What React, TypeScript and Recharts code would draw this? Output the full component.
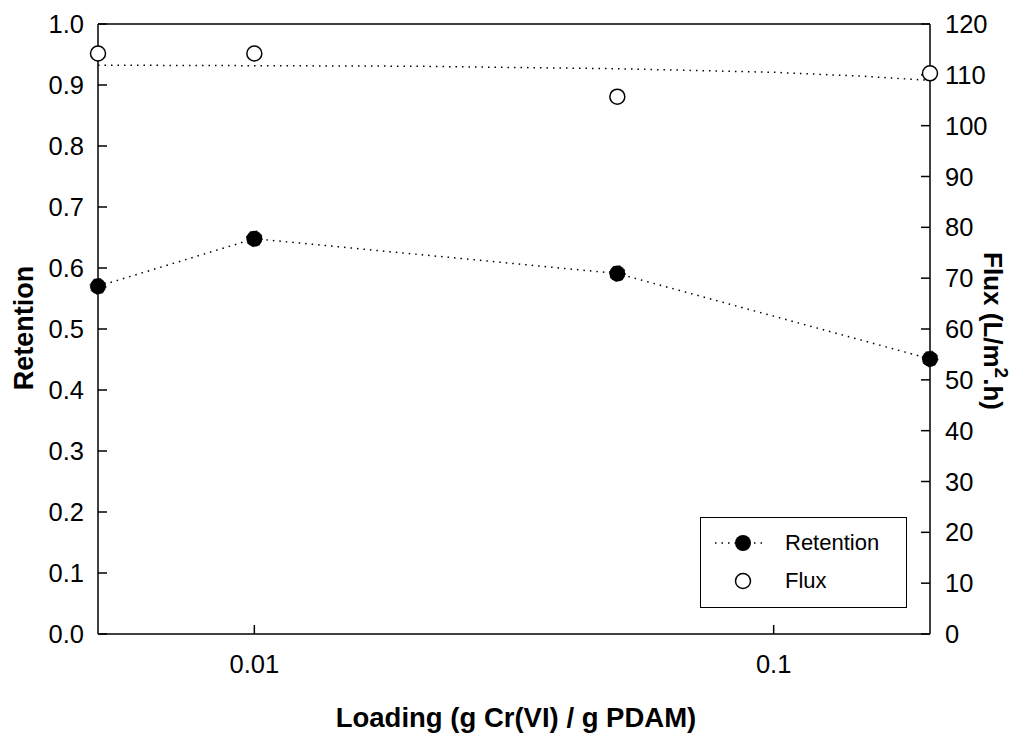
import React from "react";
import {
  ComposedChart,
  Legend,
  Line,
  ReferenceLine,
  XAxis,
  YAxis,
} from "recharts";

const FONT = '"Liberation Sans", Arial, Helvetica, sans-serif';

// loading, g Cr(VI) / g PDAM
const loading = [0.005, 0.01, 0.05, 0.2];
const retention = [0.57, 0.648, 0.591, 0.451];
const flux = [114.2, 114.2, 105.7, 110.3];

// dotted trend line through the flux points
const fluxTrendX = [0.005, 0.01, 0.02, 0.05, 0.1, 0.15, 0.2];
const fluxTrendY = [111.9, 111.8, 111.7, 111.2, 110.5, 109.7, 108.9];

const xTicks = [0.01, 0.1];
const retTicks = [0, 0.1, 0.2, 0.3, 0.4, 0.5, 0.6, 0.7, 0.8, 0.9, 1.0];
const fluxTicks = [0, 10, 20, 30, 40, 50, 60, 70, 80, 90, 100, 110, 120];

const retData = loading.map((x, i) => ({ x, retention: retention[i] }));
const fluxData = loading.map((x, i) => ({ x, flux: flux[i] }));
const trendData = fluxTrendX.map((x, i) => ({ x, trend: fluxTrendY[i] }));

const tickStyle = { fontSize: 25.5, fill: "#000", fontFamily: FONT };
const axisLine = { stroke: "#000", strokeWidth: 1.5 };
const DOTTED = "1.5 5";

function LegendBox() {
  return (
    <div
      style={{
        boxSizing: "border-box",
        width: 207,
        height: 91,
        border: "1.5px solid #000",
        background: "#fff",
        fontFamily: FONT,
        fontSize: 22,
        color: "#000",
        position: "relative",
      }}
    >
      <svg
        width={80}
        height={91}
        style={{ position: "absolute", left: 0, top: 0 }}
      >
        <line
          x1={14}
          x2={66}
          y1={25}
          y2={25}
          stroke="#000"
          strokeWidth={1.5}
          strokeDasharray={DOTTED}
        />
        <circle cx={42} cy={25} r={8} fill="#000" />
        <circle cx={42} cy={63} r={7.5} fill="#fff" stroke="#000" strokeWidth={1.5} />
      </svg>
      <div style={{ position: "absolute", left: 84, top: 11, lineHeight: "28px" }}>
        Retention
      </div>
      <div style={{ position: "absolute", left: 84, top: 49, lineHeight: "28px" }}>
        Flux
      </div>
    </div>
  );
}

export default function App() {
  return (
    <div style={{ position: "absolute", left: 0, top: 0, background: "#fff" }}>
      <ComposedChart
        width={1029}
        height={736}
        margin={{ top: 24, right: 0, bottom: 0, left: 0 }}
      >
        <XAxis
          dataKey="x"
          type="number"
          scale="log"
          domain={[0.005, 0.2]}
          ticks={xTicks}
          tickFormatter={(v: number) => String(v)}
          height={102}
          axisLine={axisLine}
          tickLine={{ stroke: "#000", strokeWidth: 1.5 }}
          tickSize={-9}
          tickMargin={30}
          tick={tickStyle}
          label={{
            content: (p: any) => {
              const vb = p.viewBox;
              return (
                <text
                  x={vb.x + vb.width / 2 + 2}
                  y={vb.y + 93}
                  textAnchor="middle"
                  fontFamily={FONT}
                  fontWeight="bold"
                  fontSize={27.5}
                  fill="#000"
                >
                  Loading (g Cr(VI) / g PDAM)
                </text>
              );
            },
          }}
        />
        <YAxis
          yAxisId="ret"
          orientation="left"
          type="number"
          domain={[0, 1]}
          ticks={retTicks}
          tickFormatter={(v: number) => v.toFixed(1)}
          width={98}
          axisLine={axisLine}
          tickLine={{ stroke: "#000", strokeWidth: 1.5 }}
          tickSize={-9}
          tickMargin={23}
          tick={tickStyle}
          label={{
            content: (p: any) => {
              const vb = p.viewBox;
              return (
                <text
                  transform={`translate(33, ${vb.y + vb.height / 2 - 1}) rotate(-90)`}
                  textAnchor="middle"
                  fontFamily={FONT}
                  fontWeight="bold"
                  fontSize={27}
                  fill="#000"
                >
                  Retention
                </text>
              );
            },
          }}
        />
        <YAxis
          yAxisId="flux"
          orientation="right"
          type="number"
          domain={[0, 120]}
          ticks={fluxTicks}
          width={99}
          axisLine={axisLine}
          tickLine={{ stroke: "#000", strokeWidth: 1.5 }}
          tickSize={-9}
          tickMargin={24}
          tick={tickStyle}
          label={{
            content: (p: any) => {
              const vb = p.viewBox;
              return (
                <text
                  transform={`translate(984, ${vb.y + vb.height / 2 + 2}) rotate(90)`}
                  textAnchor="middle"
                  fontFamily={FONT}
                  fontWeight="bold"
                  fontSize={26}
                  fill="#000"
                >
                  Flux (L/m
                  <tspan dy={-11} fontSize={19}>
                    2
                  </tspan>
                  <tspan dy={11}>.h)</tspan>
                </text>
              );
            },
          }}
        />
        {/* top border of the frame */}
        <ReferenceLine yAxisId="ret" y={1} stroke="#000" strokeWidth={1.5} />
        <Legend
          layout="horizontal"
          verticalAlign="middle"
          align="center"
          content={() => <LegendBox />}
          wrapperStyle={{ left: 700, top: 517, width: 207, height: 91 }}
        />
        <Line
          yAxisId="flux"
          data={trendData}
          dataKey="trend"
          type="linear"
          stroke="#000"
          strokeWidth={1.5}
          strokeDasharray={DOTTED}
          dot={false}
          activeDot={false}
          legendType="none"
          isAnimationActive={false}
        />
        <Line
          yAxisId="flux"
          data={fluxData}
          dataKey="flux"
          stroke="none"
          dot={{ r: 7.5, fill: "#fff", stroke: "#000", strokeWidth: 1.5 }}
          activeDot={false}
          isAnimationActive={false}
        />
        <Line
          yAxisId="ret"
          data={retData}
          dataKey="retention"
          type="linear"
          stroke="#000"
          strokeWidth={1.5}
          strokeDasharray={DOTTED}
          dot={{ r: 8, fill: "#000", stroke: "#000", strokeWidth: 1 }}
          activeDot={false}
          isAnimationActive={false}
        />
      </ComposedChart>
    </div>
  );
}
